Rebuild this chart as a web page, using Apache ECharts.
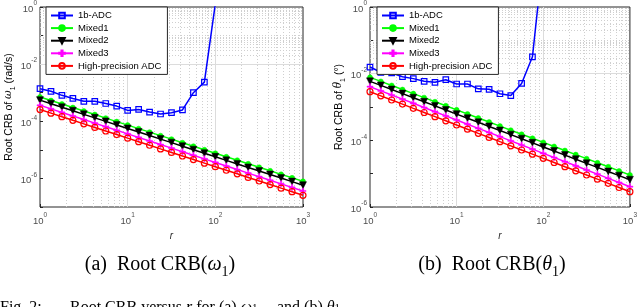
<!DOCTYPE html>
<html><head><meta charset="utf-8">
<script src="https://cdn.jsdelivr.net/npm/echarts@6/dist/echarts.min.js"></script>
<style>html,body{margin:0;padding:0;background:#fff}#c{width:640px;height:307px}</style>
</head><body><div id="c"></div>
<script>
// ---------- data ----------
const r = [1,1.334,1.778,2.371,3.162,4.217,5.623,7.499,10,13.34,17.78,23.71,31.62,42.17,56.23,74.99,100,133.4,177.8,237.1,316.2,421.7,562.3,749.9,1000];
const names = ['1b-ADC','Mixed1','Mixed2','Mixed3','High-precision ADC'];

// (a) Root CRB of omega_1 (rad/s)
const omega1b    = [1.38e-3,1.12e-3,8.1e-4,6.3e-4,5.0e-4,5.0e-4,4.2e-4,3.4e-4,2.4e-4,2.6e-4,2.1e-4,1.8e-4,2.0e-4,2.5e-4,1.0e-3,2.35e-3,1.3];
const omegaMixed1 = [7.08e-4,5.33e-4,4.02e-4,3.03e-4,2.28e-4,1.72e-4,1.29e-4,9.75e-5,7.35e-5,5.53e-5,4.17e-5,3.14e-5,2.37e-5,1.78e-5,1.34e-5,1.01e-5,7.62e-6,5.74e-6,4.33e-6,3.26e-6,2.45e-6,1.85e-6,1.39e-6,1.05e-6,7.9e-7];
const omegaMixed2 = [5.50e-4,4.13e-4,3.10e-4,2.33e-4,1.75e-4,1.32e-4,9.91e-5,7.45e-5,5.60e-5,4.21e-5,3.16e-5,2.38e-5,1.79e-5,1.34e-5,1.01e-5,7.59e-6,5.70e-6,4.29e-6,3.22e-6,2.42e-6,1.82e-6,1.37e-6,1.03e-6,7.73e-7,5.81e-7];
const omegaMixed3 = [3.63e-4,2.72e-4,2.04e-4,1.53e-4,1.15e-4,8.61e-5,6.46e-5,4.84e-5,3.63e-5,2.72e-5,2.04e-5,1.53e-5,1.15e-5,8.61e-6,6.46e-6,4.84e-6,3.63e-6,2.72e-6,2.04e-6,1.53e-6,1.15e-6,8.61e-7,6.46e-7,4.84e-7,3.63e-7];
const omegaHP     = [2.57e-4,1.93e-4,1.45e-4,1.08e-4,8.13e-5,6.10e-5,4.57e-5,3.43e-5,2.57e-5,1.93e-5,1.45e-5,1.08e-5,8.13e-6,6.10e-6,4.57e-6,3.43e-6,2.57e-6,1.93e-6,1.45e-6,1.08e-6,8.13e-7,6.10e-7,4.57e-7,3.43e-7,2.57e-7];

// (b) Root CRB of theta_1 (deg)
const theta1b     = [1.58e-2,1.10e-2,1.05e-2,8.1e-3,7.1e-3,5.9e-3,5.5e-3,6.6e-3,4.9e-3,4.9e-3,3.5e-3,3.4e-3,2.5e-3,2.2e-3,5.1e-3,3.2e-2,35];
const thetaMixed1 = [7.76e-3,5.86e-3,4.43e-3,3.34e-3,2.52e-3,1.91e-3,1.44e-3,1.09e-3,8.20e-4,6.19e-4,4.68e-4,3.53e-4,2.67e-4,2.01e-4,1.52e-4,1.15e-4,8.67e-5,6.55e-5,4.94e-5,3.73e-5,2.82e-5,2.13e-5,1.61e-5,1.21e-5,9.16e-6];
const thetaMixed2 = [5.89e-3,4.44e-3,3.34e-3,2.52e-3,1.90e-3,1.43e-3,1.08e-3,8.11e-4,6.11e-4,4.60e-4,3.47e-4,2.61e-4,1.97e-4,1.48e-4,1.12e-4,8.41e-5,6.34e-5,4.78e-5,3.60e-5,2.71e-5,2.04e-5,1.54e-5,1.16e-5,8.73e-6,6.58e-6];
const thetaMixed3 = [4.07e-3,3.05e-3,2.29e-3,1.72e-3,1.29e-3,9.66e-4,7.24e-4,5.43e-4,4.07e-4,3.05e-4,2.29e-4,1.72e-4,1.29e-4,9.66e-5,7.24e-5,5.43e-5,4.07e-5,3.05e-5,2.29e-5,1.72e-5,1.29e-5,9.66e-6,7.24e-6,5.43e-6,4.07e-6];
const thetaHP     = [2.88e-3,2.16e-3,1.62e-3,1.22e-3,9.12e-4,6.84e-4,5.13e-4,3.85e-4,2.88e-4,2.16e-4,1.62e-4,1.22e-4,9.12e-5,6.84e-5,5.13e-5,3.85e-5,2.88e-5,2.16e-5,1.62e-5,1.22e-5,9.12e-6,6.84e-6,5.13e-6,3.85e-6,2.88e-6];

const xTickExp = [0,1,2,3];
const yTickExpA = [0,-2,-4,-6];
const yTickExpB = [0,-2,-4,-6];

// ---------- styling ----------
const styles = [
  {color:'#0000ff', symbol:'rect', size:5.5, hollow:true},
  {color:'#00ff00', symbol:'circle', size:5, hollow:false},
  {color:'#000000', symbol:'triangle', size:7, hollow:false, rotate:180},
  {color:'#ff00ff', symbol:'path://M4,0H6V4H10V6H6V10H4V6H0V4H4Z', size:6, hollow:false},
  {color:'#ff0000', symbol:'circle', size:6, hollow:true}
];
const zip = a => a.map((v,i)=>[r[i], v]);

function mkSeries(idx, vals, g){
  const s = styles[idx];
  return {
    name: names[idx], type:'line', xAxisIndex:g, yAxisIndex:g, data: zip(vals),
    symbol: s.symbol, symbolSize: s.size, symbolRotate: s.rotate||0, showAllSymbol:true,
    lineStyle:{color:s.color, width:1.5},
    itemStyle: s.hollow ? {color:'rgba(255,255,255,0)', borderColor:s.color, borderWidth:1.2}
                        : {color:s.color, borderColor:s.color, borderWidth:0.5},
    z: 3 + idx, clip:true, animation:false, emphasis:{disabled:true}
  };
}

function gridLines(g, yMinExp){
  const minor = [], major = [];
  for (let e=0;e<3;e++) for (let k=2;k<=9;k++) minor.push({xAxis:k*Math.pow(10,e)});
  major.push({xAxis:10},{xAxis:100});
  for (let e=yMinExp;e<0;e++){
    for (let k=2;k<=9;k++) minor.push({yAxis:k*Math.pow(10,e)});
    if (e%2===0) { if (e>yMinExp) major.push({yAxis:Math.pow(10,e)}); }
    else if (e>yMinExp) minor.push({yAxis:Math.pow(10,e)});
  }
  const base = {type:'line', xAxisIndex:g, yAxisIndex:g, data:[[1,1e-12]], showSymbol:false,
    lineStyle:{opacity:0}, silent:true, animation:false, z:1};
  return [
    Object.assign({}, base, {markLine:{silent:true, symbol:['none','none'], animation:false, z:1,
      label:{show:false}, lineStyle:{color:'#cfcfcf', type:[1,2], width:1}, data:minor}}),
    Object.assign({}, base, {markLine:{silent:true, symbol:['none','none'], animation:false, z:1,
      label:{show:false}, lineStyle:{color:'#dcdcdc', type:'solid', width:1}, data:major}})
  ];
}

const rich = {
  b:{fontSize:9.5, color:'#4d4d4d', fontFamily:'Liberation Sans', lineHeight:14, verticalAlign:'bottom'},
  s:{fontSize:6.5, color:'#4d4d4d', fontFamily:'Liberation Sans', lineHeight:14, verticalAlign:'top'}
};
const expOf = v => Math.round(Math.log10(v));
const xLab = v => xTickExp.includes(expOf(v)) ? '{b|10}{s|'+expOf(v)+'}' : '';
const yLabA = v => yTickExpA.includes(expOf(v)) ? '{b|10}{s|'+expOf(v)+'}' : '';
const yLabB = v => yTickExpB.includes(expOf(v)) ? '{b|10}{s|'+expOf(v)+'}' : '';

function xAxis(g){
  return {type:'log', logBase:10, gridIndex:g, min:1, max:1000, interval:1,
    axisLine:{show:false}, axisTick:{inside:true, length:3, lineStyle:{color:'#262626'}},
    splitLine:{show:false}, axisLabel:{formatter:xLab, rich:rich, margin:5},
    name:'{i|r}', nameLocation:'middle', nameGap:22,
    nameTextStyle:{rich:{i:{fontStyle:'italic', fontSize:10, fontFamily:'Liberation Sans', color:'#262626'}}}};
}
function yAxis(g, min, fmt, nameRich){
  return {type:'log', logBase:10, gridIndex:g, min:min, max:1, interval:1,
    axisLine:{show:false}, axisTick:{inside:true, length:3, lineStyle:{color:'#262626'}},
    splitLine:{show:false}, axisLabel:{formatter:fmt, rich:rich, margin:3},
    name:nameRich, nameLocation:'middle', nameRotate:90, nameGap:19,
    nameTextStyle:{fontSize:10.5, fontFamily:'Liberation Sans', color:'#000',
      rich:{n:{fontSize:10.5, fontFamily:'Liberation Sans', color:'#000'},
            i:{fontSize:10.5, fontFamily:'DejaVu Serif', fontStyle:'italic', color:'#000'},
            sub:{fontSize:7, fontFamily:'Liberation Sans', color:'#000', verticalAlign:'bottom', lineHeight:16}}}};
}

function legend(left){
  return {left:left, top:7, orient:'vertical', data:names, itemWidth:22, itemHeight:7, itemGap:2.6,
    padding:[3.5,6,3.5,4], backgroundColor:'#fff', borderColor:'#262626', borderWidth:1,
    textStyle:{fontSize:9.5, fontFamily:'Liberation Sans', color:'#000', lineHeight:9.5},
    selectedMode:false, z:50, zlevel:0};
}

const option = {
  animation:false,
  grid:[
    {left:40, top:5, width:263, height:202, show:true, borderColor:'#262626', borderWidth:1, backgroundColor:'#fff'},
    {left:370, top:5, width:263, height:202, show:true, borderColor:'#262626', borderWidth:1, backgroundColor:'#fff'}
  ],
  xAxis:[xAxis(0), xAxis(1)],
  yAxis:[
    yAxis(0, 1e-7, yLabA, '{n|Root CRB of }{i|ω}{sub|1}{n| (rad/s)}'),
    yAxis(1, 1e-6, yLabB, '{n|Root CRB of }{i|θ}{sub|1}{n| (°)}')
  ],
  legend:[legend(46), legend(377)],
  series:[].concat(
    gridLines(0,-7), gridLines(1,-6),
    [omega1b, omegaMixed1, omegaMixed2, omegaMixed3, omegaHP].map((v,i)=>mkSeries(i,v,0)),
    [theta1b, thetaMixed1, thetaMixed2, thetaMixed3, thetaHP].map((v,i)=>mkSeries(i,v,1))
  )
};
const capRich = {
  n:{fontSize:20, fontFamily:'Liberation Serif', color:'#111'},
  i:{fontSize:20, fontFamily:'Liberation Serif', fontStyle:'italic', color:'#111'},
  sub:{fontSize:14, fontFamily:'Liberation Serif', color:'#111', verticalAlign:'bottom', lineHeight:28}
};
const figRich = {
  n:{fontSize:16, fontFamily:'Liberation Serif', color:'#111'},
  i:{fontSize:16, fontFamily:'Liberation Serif', fontStyle:'italic', color:'#111'},
  sub:{fontSize:11, fontFamily:'Liberation Serif', color:'#111'}
};
option.graphic = [
  {type:'text', x:160, y:265, style:{text:'{n|(a)  Root CRB(}{i|ω}{sub|1}{n|)}', rich:capRich, align:'center', verticalAlign:'middle'}},
  {type:'text', x:492, y:265, style:{text:'{n|(b)  Root CRB(}{i|θ}{sub|1}{n|)}', rich:capRich, align:'center', verticalAlign:'middle'}},
  {type:'text', x:0, y:300, style:{text:'{n|Fig. 2:}', rich:figRich, align:'left', verticalAlign:'top'}},
  {type:'text', x:70, y:300, style:{text:'{n|Root CRB versus }{i|r}{n| for (a) }{i|ω}{sub|1}', rich:figRich, align:'left', verticalAlign:'top'}},
  {type:'text', x:277, y:300, style:{text:'{n|and (b) }{i|θ}{sub|1}', rich:figRich, align:'left', verticalAlign:'top'}}
];
const chart = echarts.init(document.getElementById('c'), null, {renderer:'canvas'});
chart.setOption(option);
</script></body></html>
